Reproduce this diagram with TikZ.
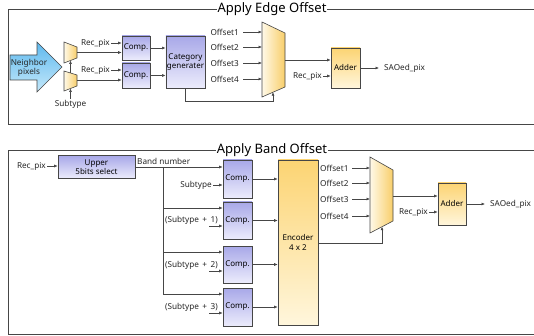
\documentclass[tikz,border=0pt]{standalone}
\usepackage{fontspec}
\setmainfont{Noto Sans}
\usetikzlibrary{arrows.meta,calc}

\definecolor{edgegray}{RGB}{70,70,70}
\definecolor{framegray}{RGB}{70,70,70}
\definecolor{compTop}{RGB}{168,168,232}
\definecolor{compBot}{RGB}{236,236,252}
\definecolor{addTop}{RGB}{252,212,115}
\definecolor{addBot}{RGB}{255,246,220}
\definecolor{muxL}{RGB}{255,249,232}
\definecolor{muxR}{RGB}{248,206,105}
\definecolor{arrTop}{RGB}{95,185,238}
\definecolor{arrBot}{RGB}{196,232,250}

\tikzset{
  lbl/.style={font=\fontsize{8.2}{9}\selectfont, inner sep=1pt, text=black!85},
  ttl/.style={font=\fontsize{13}{14}\selectfont, fill=white, inner sep=1pt},
  frame/.style={draw=framegray, line width=0.8pt},
  wire/.style={draw=edgegray, line width=0.6pt},
  arr/.style={wire, -{Latex[length=3.5pt,width=3pt]}},
  compbox/.style={draw=edgegray, line width=0.6pt, top color=compTop, bottom color=compBot,
    align=center, inner sep=1pt, font=\fontsize{8}{9.5}\selectfont},
  addbox/.style={draw=edgegray, line width=0.6pt, top color=addTop, bottom color=addBot,
    align=center, inner sep=1pt, font=\bfseries\fontsize{8}{10}\selectfont},
  muxshape/.style={draw=edgegray, line width=0.6pt, left color=muxL, right color=muxR},
}

\begin{document}
\begin{tikzpicture}[x=1pt,y=-1pt]
\useasboundingbox (0,0) rectangle (534,336);

% ---------------- Apply Edge Offset ----------------
\draw[frame] (534,9) -- (8,9) -- (8,124) -- (534,124);
\node[ttl] (ttlE) at (272,9) {Apply Edge Offset};

% neighbour pixels arrow
\draw[draw=edgegray, line width=0.6pt, top color=arrTop, bottom color=arrBot]
  (10,55) -- (37,55) -- (37,42) -- (62,67) -- (37,92) -- (37,80) -- (10,80) -- cycle;
\node[lbl, align=center] (nb) at (29,67.5) {Neighbor\\pixels};

% two small selectors
\draw[muxshape] (64,42) -- (77,47) -- (77,58) -- (64,63) -- cycle;
\draw[muxshape] (64,71) -- (77,75) -- (77,86) -- (64,91) -- cycle;
\coordinate (mAout) at (77,52.5);
\coordinate (mAbot) at (70.5,60.5);
\coordinate (mBout) at (77,80);
\coordinate (mBtop) at (70.5,73);
\coordinate (mBbot) at (70.5,88.5);
\node[lbl] (stE) at (70.5,104) {Subtype};
\draw[arr] (stE.north) -- (mBbot);
\draw[arr] (mBtop) -- (mAbot);

% comparators
\node[compbox, minimum width=28pt, minimum height=24pt] (cA) at (136,48) {Comp.};
\node[compbox, minimum width=28pt, minimum height=25pt] (cB) at (136,75.5) {Comp.};
\node[lbl, anchor=east] (rA) at (111,43) {Rec\_pix};
\node[lbl, anchor=east] (rB) at (111,70) {Rec\_pix};
\draw[arr] (rA.east) -- (cA.west |- rA.east);
\draw[arr] (rB.east) -- (cB.west |- rB.east);
\draw[arr] (mAout) -- (cA.west |- mAout);
\draw[arr] (mBout) -- (cB.west |- mBout);

% category generator
\node[compbox, minimum width=39pt, minimum height=52pt] (cg) at (185.5,62) {Category\\generater};
\draw[arr] (cA.east) -- (cg.west |- cA.east);
\draw[arr] (cB.east) -- (cg.west |- cB.east);

% offset selector
\draw[muxshape] (262,22) -- (285,33) -- (285,87) -- (262,97) -- cycle;
\coordinate (bmIn) at (262,0);
\coordinate (bmOut) at (285,60);
\coordinate (bmBot) at (273,92.2);
\foreach \i/\y in {1/32,2/47,3/63,4/79}{
  \node[lbl, anchor=east] (oE\i) at (240,\y) {Offset\i};
  \draw[arr] ([xshift=3pt]oE\i.east) -- (bmIn |- oE\i.east);
}
\coordinate (cgDown) at (185.5,101);
\draw[arr] (cg.south) -- (cgDown) -| (bmBot);

% adder
\node[addbox, minimum width=29pt, minimum height=40pt] (addE) at (345.5,68) {Adder};
\draw[arr] (bmOut) -- (addE.west |- bmOut);
\node[lbl, anchor=east] (rE) at (323,76) {Rec\_pix};
\draw[arr] (rE.east) -- (addE.west |- rE.east);
\node[lbl, anchor=west] (outE) at (383,68) {SAOed\_pix};
\draw[arr] (addE.east) -- ([xshift=-4pt]outE.west);

% ---------------- Apply Band Offset ----------------
\draw[frame] (534,150) -- (8,150) -- (8,334) -- (534,334);
\node[ttl] (ttlB) at (272,150) {Apply Band Offset};

\node[compbox, minimum width=77pt, minimum height=23pt] (up) at (96.5,167) {Upper\\5bits select};
\node[lbl, anchor=east] (rB0) at (47,166) {Rec\_pix};
\draw[arr] (rB0.east) -- (up.west |- rB0.east);

% band comparators
\node[compbox, minimum width=29pt, minimum height=38pt] (k1) at (237.5,179) {Comp.};
\node[compbox, minimum width=29pt, minimum height=37pt] (k2) at (237.5,220.5) {Comp.};
\node[compbox, minimum width=29pt, minimum height=37pt] (k3) at (237.5,264.5) {Comp.};
\node[compbox, minimum width=29pt, minimum height=38pt] (k4) at (237.5,307) {Comp.};

\node[lbl, anchor=south west] (bn) at (136,166) {Band number};
\coordinate (bsplit) at (163,167);
\coordinate (b2) at (163,208);
\coordinate (b3) at (163,252);
\coordinate (b4) at (163,294);
\draw[arr] (up.east |- bsplit) -- (k1.west |- bsplit);
\draw[wire] (bsplit) -- (b4);
\draw[arr] (b2) -- (k2.west |- b2);
\draw[arr] (b3) -- (k3.west |- b3);
\draw[arr] (b4) -- (k4.west |- b4);

\node[lbl, anchor=east] (s1) at (213,185) {Subtype};
\draw[arr] (s1.east) -- (k1.west |- s1.east);
\foreach \k/\n/\y in {2/1/220,3/2/265,4/3/307}{
  \node[lbl, anchor=east] (s\k) at (219,\y) {(Subtype\ \,+\ \,\n)};
  \coordinate (s\k a) at (209,\y+6);
  \draw[arr] (s\k a) -- (k\k.west |- s\k a);
}

% encoder
\node[addbox, minimum width=40pt, minimum height=165pt] (enc) at (298,242.5) {Encoder\\4 x 2};
\foreach \k in {1,2,3,4}{
  \draw[arr] (k\k.east) -- (enc.west |- k\k.east);
}

% band offset selector
\draw[muxshape] (370,157) -- (393,170) -- (393,221) -- (370,233) -- cycle;
\coordinate (bbIn) at (370,0);
\coordinate (bbOut) at (393,196);
\coordinate (bbBot) at (382,226.7);
\foreach \i/\y in {1/168,2/183,3/199,4/216}{
  \node[lbl, anchor=west] (oB\i) at (319,\y) {Offset\i};
  \draw[arr] (352,\y) -- (bbIn |- oB\i.east);
}
\coordinate (encOut) at (318,243);
\draw[arr] (encOut) -| (bbBot);

% band adder
\node[addbox, minimum width=28pt, minimum height=42pt] (addB) at (452,204) {Adder};
\draw[arr] (bbOut) -- (addB.west |- bbOut);
\node[lbl, anchor=east] (rB1) at (429,212) {Rec\_pix};
\draw[arr] (rB1.east) -- (addB.west |- rB1.east);
\node[lbl, anchor=west] (outB) at (489,204) {SAOed\_pix};
\draw[arr] (addB.east) -- ([xshift=-4pt]outB.west);
\end{tikzpicture}
\end{document}
